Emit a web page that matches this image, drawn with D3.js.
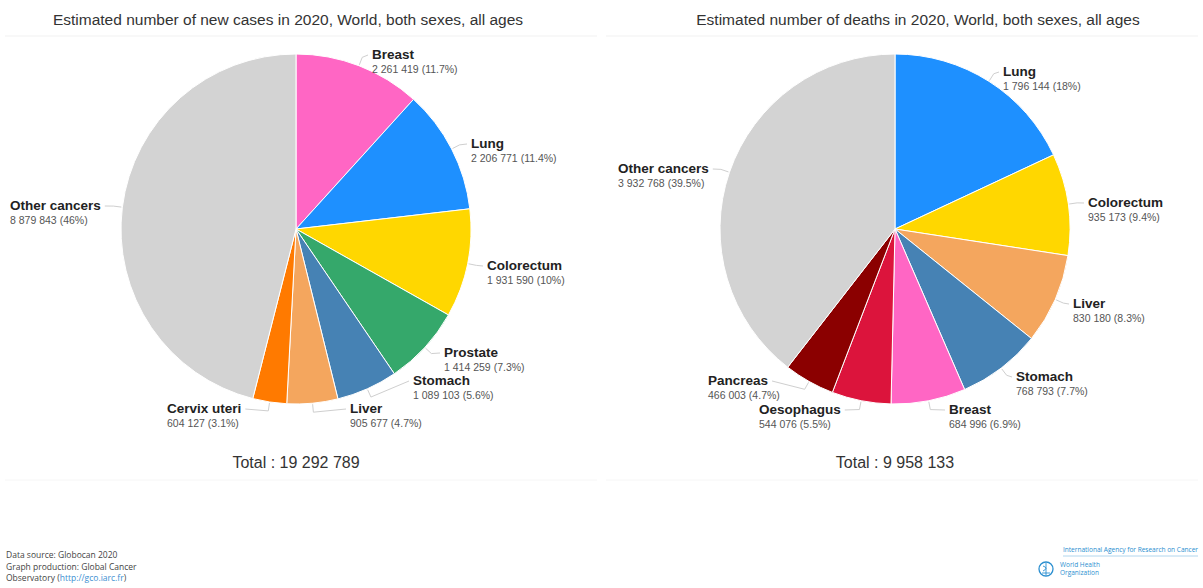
<!DOCTYPE html>
<html>
<head>
<meta charset="utf-8">
<script src="https://cdn.jsdelivr.net/npm/d3@7"></script>
<style>
html,body{margin:0;padding:0;background:#fff;}
svg{display:block;}
</style>
</head>
<body>
<svg id="chart" width="1203" height="588"></svg>
<script>
// ---- Data ----
const casesTitle = "Estimated number of new cases in 2020, World, both sexes, all ages";
const casesCategories = ["Breast","Lung","Colorectum","Prostate","Stomach","Liver","Cervix uteri","Other cancers"];
const casesValues = [2261419, 2206771, 1931590, 1414259, 1089103, 905677, 604127, 8879843];
const casesTotal = 19292789;

const deathsTitle = "Estimated number of deaths in 2020, World, both sexes, all ages";
const deathsCategories = ["Lung","Colorectum","Liver","Stomach","Breast","Oesophagus","Pancreas","Other cancers"];
const deathsValues = [1796144, 935173, 830180, 768793, 684996, 544076, 466003, 3932768];
const deathsTotal = 9958133;

const sourceLines = ["Data source: Globocan 2020", "Graph production: Global Cancer"];

// ---- Styles / layout ----
const colorMap = {
  "Breast":"#ff66c4","Lung":"#1e90ff","Colorectum":"#ffd700","Prostate":"#35a86b",
  "Stomach":"#4682b4","Liver":"#f4a65e","Cervix uteri":"#ff7a00","Other cancers":"#d3d3d3",
  "Oesophagus":"#dc143c","Pancreas":"#8b0000"
};
// label anchor (text left x, name line centre y)
const casesLabelPos = {
  "Breast":[372,54],"Lung":[471,143],"Colorectum":[487,265],"Prostate":[444,352],
  "Stomach":[413,380],"Liver":[350,408],"Cervix uteri":[167,408],"Other cancers":[10,205]
};
const deathsLabelPos = {
  "Lung":[1003,71],"Colorectum":[1088,202],"Liver":[1073,303],"Stomach":[1016,376],
  "Breast":[949,409],"Oesophagus":[759,409],"Pancreas":[708,380],"Other cancers":[618,168]
};

const svg = d3.select("#chart");
const FONT = "'Liberation Sans', Arial, sans-serif";
const fmt = d3.formatLocale({decimal:".", thousands:" ", grouping:[3], currency:["",""]}).format(",d");

// faint panel frames
svg.append("line").attr("x1",5).attr("x2",597).attr("y1",36).attr("y2",36).attr("stroke","#f1f1f1");
svg.append("line").attr("x1",606).attr("x2",1198).attr("y1",36).attr("y2",36).attr("stroke","#f1f1f1");
svg.append("line").attr("x1",5).attr("x2",597).attr("y1",480).attr("y2",480).attr("stroke","#f6f6f6");
svg.append("line").attr("x1",606).attr("x2",1198).attr("y1",480).attr("y2",480).attr("stroke","#f6f6f6");

function drawPie(cfg) {
  const {cx, cy, r, titleX, title, cats, vals, total, labelPos} = cfg;
  const g = svg.append("g");
  g.append("text").attr("x", titleX).attr("y", 25).attr("text-anchor","middle")
    .attr("font-family", FONT).attr("font-size", 15.5).attr("fill","#333").text(title);

  const data = cats.map((c,i)=>({name:c, value:vals[i]}));
  const pie = d3.pie().value(d=>d.value).sort(null);
  const arcs = pie(data);
  const arc = d3.arc().innerRadius(0).outerRadius(r);
  const pg = g.append("g").attr("transform",`translate(${cx},${cy})`);
  pg.selectAll("path").data(arcs).join("path")
    .attr("d", arc).attr("fill", d=>colorMap[d.data.name])
    .attr("stroke","#ffffff").attr("stroke-width",1).attr("stroke-linejoin","round");

  const sum = d3.sum(vals);
  arcs.forEach(a=>{
    const name = a.data.name;
    const [lx, ly] = labelPos[name];
    const pct = +(a.data.value / sum * 100).toFixed(1);
    const lg = g.append("g");
    const t1 = lg.append("text").attr("x",lx).attr("y",ly+4.5)
      .attr("font-family",FONT).attr("font-weight","bold").attr("font-size",13.5).attr("fill","#222").text(name);
    lg.append("text").attr("x",lx).attr("y",ly+19)
      .attr("font-family",FONT).attr("font-size",10.5).attr("fill","#555")
      .text(`${fmt(a.data.value)} (${pct}%)`);
    const w = t1.node().getComputedTextLength();
    const mid = (a.startAngle + a.endAngle)/2;
    const p0 = [cx + (r+1)*Math.sin(mid), cy - (r+1)*Math.cos(mid)];
    const p1 = [cx + (r+9)*Math.sin(mid), cy - (r+9)*Math.cos(mid)];
    const leftSide = lx < cx;
    const ex = leftSide ? lx + w + 4 : lx - 4;
    const p2 = [ex, ly+1];
    g.insert("path", ":first-child")
      .attr("d", d3.line()([p0,p1,p2])).attr("fill","none")
      .attr("stroke","#cfcfcf").attr("stroke-width",1);
  });

  g.append("text").attr("x",cx).attr("y",468).attr("text-anchor","middle")
    .attr("font-family",FONT).attr("font-size",16).attr("fill","#333")
    .text(`Total : ${fmt(total)}`);
}

drawPie({cx:296, cy:229, r:175, titleX:288, title:casesTitle, cats:casesCategories, vals:casesValues, total:casesTotal, labelPos:casesLabelPos});
drawPie({cx:895, cy:229, r:175, titleX:918, title:deathsTitle, cats:deathsCategories, vals:deathsValues, total:deathsTotal, labelPos:deathsLabelPos});

// footer
const SF = "'Open Sans','Noto Sans',sans-serif";
const ft = svg.append("g").attr("font-family",SF).attr("font-size",8.5).attr("fill","#444");
sourceLines.forEach((s,i)=>ft.append("text").attr("x",6).attr("y",558+i*11.5).text(s));
const l3 = ft.append("text").attr("x",6).attr("y",581);
l3.append("tspan").text("Observatory (");
l3.append("tspan").attr("fill","#3d8fd1").text("http://gco.iarc.fr");
l3.append("tspan").text(")");

// logo block
const lg = svg.append("g").attr("fill","#2b8fd0");
lg.append("text").attr("x",1063).attr("y",552).attr("font-family",SF).attr("font-size",6.6)
  .attr("textLength",135).text("International Agency for Research on Cancer");
lg.append("line").attr("x1",1063).attr("x2",1198).attr("y1",556).attr("y2",556).attr("stroke","#9fcbe8").attr("stroke-width",0.8);
lg.append("circle").attr("cx",1046).attr("cy",569).attr("r",7).attr("fill","none").attr("stroke","#2b8fd0").attr("stroke-width",1.3);
lg.append("path").attr("d","M1046,563 L1046,575 M1043,566 Q1049,568 1043,571 M1042,573 L1050,573").attr("fill","none").attr("stroke","#2b8fd0").attr("stroke-width",0.9);
lg.append("text").attr("x",1060).attr("y",567).attr("font-family",SF).attr("font-size",6.5).text("World Health");
lg.append("text").attr("x",1060).attr("y",574.5).attr("font-family",SF).attr("font-size",6.5).text("Organization");
</script>
</body>
</html>
